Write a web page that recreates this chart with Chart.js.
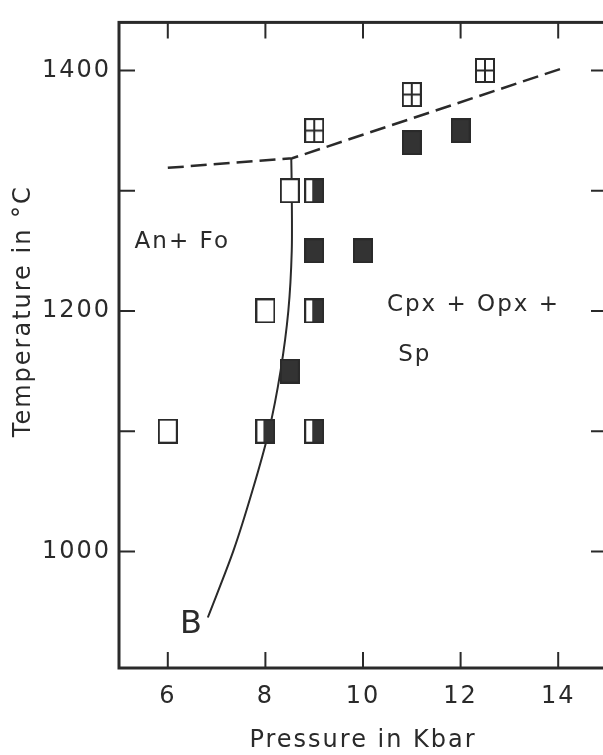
<!DOCTYPE html>
<html lang="en">
<head>
<meta charset="UTF-8">
<title>An + Fo / Cpx + Opx + Sp</title>
<script src="https://cdn.jsdelivr.net/npm/chart.js@4"></script>
<style>
  html, body { margin: 0; padding: 0; background: #fff; overflow: hidden; }
  #wrap { width: 615px; height: 755px; }
</style>
</head>
<body>
<div id="wrap"><canvas id="phase" width="615" height="755"></canvas></div>
<script>
// runs: pressure (kbar) and temperature (C)
const openP = [6, 8, 8.5];
const openT = [1100, 1200, 1300];
const halfP = [8, 9, 9, 9];
const halfT = [1100, 1100, 1200, 1300];
const fullP = [8.5, 9, 10, 11, 12];
const fullT = [1150, 1250, 1250, 1340, 1350];
const meltP = [9, 11, 12.5];
const meltT = [1350, 1380, 1400];

// curve B and the dashed boundary
const curveP = [8.53, 8.54, 8.54, 8.47, 8.31, 8.07, 7.73, 7.34, 6.82];
const curveT = [1327, 1300, 1250, 1200, 1150, 1100, 1050, 1000, 945];
const dashP = [6, 8.55, 14.1];
const dashT = [1319, 1327, 1402];

const xTicks = [6, 8, 10, 12, 14];
const yTicks = [1000, 1100, 1200, 1300, 1400];
const yLabelled = [1000, 1200, 1400];

// field labels, anchored at left/baseline in data units
const noteText = ['An+ Fo', 'Cpx + Opx +', 'Sp', 'B'];
const noteP = [5.32, 10.49, 10.72, 6.25];
const noteT = [1252, 1200, 1158, 932];

const ink = '#2a2a2a';
const font = 'DejaVu Sans';

function pts(xs, ys) {
  return xs.map((v, i) => ({ x: v, y: ys[i] }));
}

// little marker images
function marker(kind) {
  const c = document.createElement('canvas');
  c.width = 20; c.height = 25;
  const g = c.getContext('2d');
  g.fillStyle = '#fff';
  g.fillRect(0, 0, 20, 25);
  g.fillStyle = '#333';
  if (kind === 'full') g.fillRect(0, 0, 20, 25);
  if (kind === 'half') g.fillRect(8, 0, 12, 25);
  g.strokeStyle = ink;
  g.lineWidth = 2;
  g.strokeRect(1, 1, 18, 23);
  if (kind === 'melt') {
    g.beginPath();
    g.moveTo(10, 1); g.lineTo(10, 24);
    g.moveTo(1, 12.5); g.lineTo(19, 12.5);
    g.stroke();
  }
  return c;
}

// nudge the y title up, as in the original figure
function liftTitle(s) {
  if (s._lifted) return;
  s._lifted = true;
  const orig = s.drawTitle;
  s.drawTitle = function () {
    this.ctx.save();
    this.ctx.translate(0, -34);
    orig.call(this);
    this.ctx.restore();
  };
}

const frame = {
  id: 'frame',
  beforeDraw(chart) {
    chart.ctx.letterSpacing = '2px';
  },
  afterDraw(chart) {
    const { ctx, chartArea: a, scales: { x, y } } = chart;
    ctx.save();
    ctx.strokeStyle = ink;
    ctx.lineWidth = 3;
    ctx.strokeRect(a.left, a.top, a.right - a.left, a.bottom - a.top);
    ctx.lineWidth = 2;
    ctx.beginPath();
    x.ticks.forEach(t => {
      const px = x.getPixelForValue(t.value);
      ctx.moveTo(px, a.bottom); ctx.lineTo(px, a.bottom - 16);
      ctx.moveTo(px, a.top); ctx.lineTo(px, a.top + 16);
    });
    y.ticks.forEach(t => {
      const py = y.getPixelForValue(t.value);
      ctx.moveTo(a.left, py); ctx.lineTo(a.left + 16, py);
      ctx.moveTo(a.right, py); ctx.lineTo(a.right - 16, py);
    });
    ctx.stroke();

    ctx.fillStyle = ink;
    ctx.textAlign = 'left';
    ctx.textBaseline = 'alphabetic';
    ctx.letterSpacing = '2px';
    noteText.forEach((s, i) => {
      ctx.font = (s === 'B' ? '32px' : '23px') + ' "' + font + '"';
      ctx.fillText(s, x.getPixelForValue(noteP[i]), y.getPixelForValue(noteT[i]));
    });
    ctx.restore();
  }
};

new Chart(document.getElementById('phase'), {
  type: 'scatter',
  data: {
    datasets: [
      { data: pts(openP, openT), pointStyle: marker('open') },
      { data: pts(halfP, halfT), pointStyle: marker('half') },
      { data: pts(fullP, fullT), pointStyle: marker('full') },
      { data: pts(meltP, meltT), pointStyle: marker('melt') },
      { data: pts(curveP, curveT), showLine: true, tension: 0.3, pointRadius: 0,
        borderColor: ink, borderWidth: 2 },
      { data: pts(dashP, dashT), showLine: true, pointRadius: 0,
        borderColor: ink, borderWidth: 2.5, borderDash: [16, 7] }
    ]
  },
  options: {
    responsive: false,
    devicePixelRatio: 1,
    animation: false,
    events: [],
    layout: { padding: { top: 15, right: 8, left: 0, bottom: 0 } },
    plugins: { legend: { display: false }, tooltip: { enabled: false } },
    scales: {
      x: {
        type: 'linear', min: 5, max: 15,
        afterBuildTicks: s => { s.ticks = xTicks.map(v => ({ value: v })); },
        afterFit: s => { s.height = 87; },
        grid: { display: false, drawTicks: false },
        border: { display: false },
        ticks: { font: { family: font, size: 24 }, color: '#2a2a2a', padding: 14, maxRotation: 0, autoSkip: false },
        title: { display: true, text: 'Pressure in Kbar', color: '#2a2a2a',
                 font: { family: font, size: 24 }, padding: { top: 0, bottom: 0 } }
      },
      y: {
        type: 'linear', min: 903, max: 1440,
        afterBuildTicks: s => { s.ticks = yTicks.map(v => ({ value: v })); },
        afterFit: s => { s.width = 119; liftTitle(s); },
        grid: { display: false, drawTicks: false },
        border: { display: false },
        ticks: { font: { family: font, size: 24 }, color: '#2a2a2a', padding: 8, autoSkip: false,
                 callback: v => yLabelled.includes(v) ? String(v) : '' },
        title: { display: true, text: 'Temperature in °C', color: '#2a2a2a',
                 font: { family: font, size: 24 }, padding: { top: 9, bottom: 0 } }
      }
    }
  },
  plugins: [frame]
});
</script>
</body>
</html>
